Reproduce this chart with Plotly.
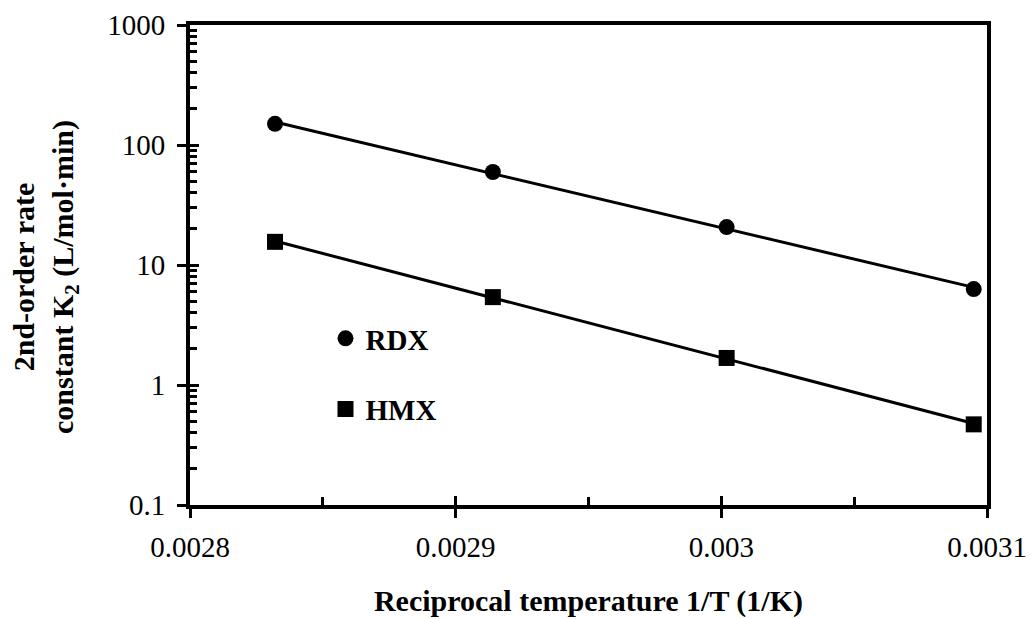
import numpy as np
import plotly.graph_objects as go

# ---- data ----
inv_T = [0.002832, 0.002914, 0.003002, 0.003095]      # 1/T (1/K)
rdx_k2 = [150.0, 59.6, 20.7, 6.3]                      # L/mol·min
hmx_k2 = [15.6, 5.4, 1.68, 0.47]                       # L/mol·min

x_ticks = [0.0028, 0.0029, 0.003, 0.0031]
x_tick_labels = ["0.0028", "0.0029", "0.003", "0.0031"]
x_minor = [0.00285, 0.00295, 0.00305]
y_ticks = [0.1, 1, 10, 100, 1000]
y_tick_labels = ["0.1", "1", "10", "100", "1000"]
y_minor = [m * 10.0 ** e for e in range(-1, 3) for m in range(2, 10)]

FONT = "Liberation Serif"


def trend(xs, ys):
    a, b = np.polyfit(np.array(xs), np.log10(np.array(ys)), 1)
    xe = np.array([xs[0], xs[-1]])
    return xe, 10 ** (a * xe + b)


fig = go.Figure()

for name, ys, sym in [("RDX", rdx_k2, "circle"), ("HMX", hmx_k2, "square")]:
    xl, yl = trend(inv_T, ys)
    fig.add_trace(go.Scatter(x=xl, y=yl, mode="lines", xaxis="x2", yaxis="y2",
                             line=dict(color="black", width=3),
                             showlegend=False, hoverinfo="skip"))
    fig.add_trace(go.Scatter(x=inv_T, y=ys, mode="markers", name="<b>%s</b>" % name,
                             legendgroup=name,
                             marker=dict(symbol=sym, size=16, color="black")))

axis_common = dict(showgrid=False, zeroline=False, color="black",
                   linecolor="black", tickcolor="black", automargin=False)

fig.update_layout(
    width=1031, height=619,
    margin=dict(l=190, r=44, t=25, b=114),
    paper_bgcolor="white", plot_bgcolor="white",
    font=dict(family=FONT, size=29, color="black"),
    xaxis=dict(range=[0.0028, 0.0031], tickmode="array", tickvals=x_ticks,
               ticktext=x_tick_labels, ticks="outside", ticklen=9, tickwidth=3,
               showline=True, linewidth=4, mirror=True, ticklabelstandoff=4,
               tickfont=dict(size=29),
               minor=dict(tickmode="array", tickvals=x_minor, ticks="inside",
                          ticklen=8, tickwidth=3, tickcolor="black", showgrid=False),
               title=dict(text="<b>Reciprocal temperature 1/T (1/K)</b>",
                          font=dict(size=30), standoff=29),
               **axis_common),
    yaxis=dict(type="log", range=[-1, 3], tickmode="array", tickvals=y_ticks,
               ticktext=y_tick_labels, ticks="outside", ticklen=9, tickwidth=3,
               showline=True, linewidth=4, mirror=True, ticklabelstandoff=6,
               tickfont=dict(size=29),
               minor=dict(tickmode="array", tickvals=y_minor, ticks="inside",
                          ticklen=7, tickwidth=3, tickcolor="black", showgrid=False),
               **axis_common),
    xaxis2=dict(overlaying="x", matches="x", range=[0.0028, 0.0031],
                tickmode="array", tickvals=x_ticks, ticks="inside", ticklen=9,
                tickwidth=3, showticklabels=False, showline=False, anchor="y2",
                **axis_common),
    yaxis2=dict(overlaying="y", type="log", range=[-1, 3], tickmode="array",
                tickvals=y_ticks, ticks="inside", ticklen=9, tickwidth=3,
                showticklabels=False, showline=False, anchor="x2",
                **axis_common),
    legend=dict(x=0.17, y=0.40, xanchor="left", yanchor="top",
                bgcolor="rgba(0,0,0,0)", font=dict(size=29),
                tracegroupgap=30, itemwidth=30),
    annotations=[dict(
        text="<b>2nd-order rate<br>constant K<sub>2</sub> (L/mol·min)</b>",
        xref="paper", yref="paper", x=-0.182, y=0.475,
        xanchor="center", yanchor="middle", textangle=-90,
        showarrow=False, font=dict(size=30, family=FONT, color="black"))],
)

fig.write_html("out.html")
